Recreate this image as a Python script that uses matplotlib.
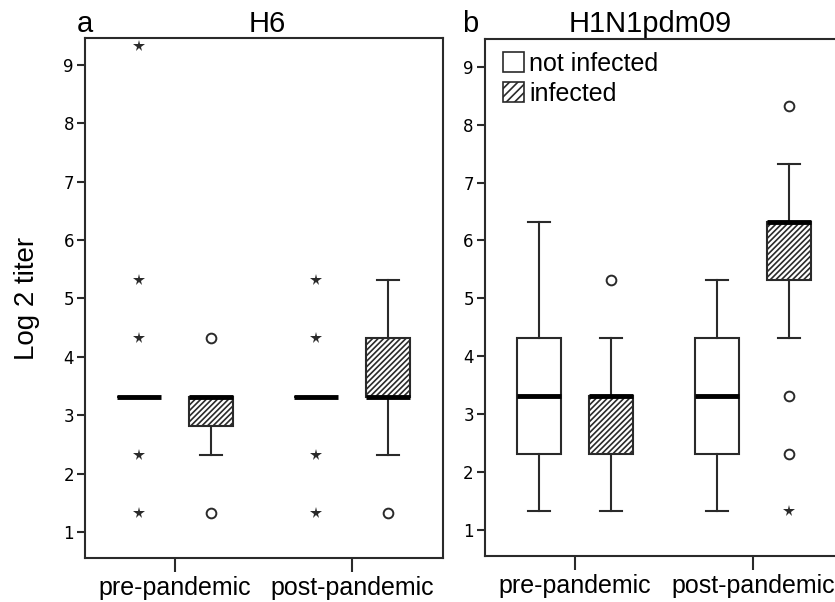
import matplotlib
matplotlib.use("Agg")
from matplotlib import pyplot as plt
from matplotlib.patches import Patch

# box order: pre not infected, pre infected, post not infected, post infected
groups = ["pre-pandemic", "post-pandemic"]
series = ["not infected", "infected"]

h6_med = [3.32, 3.32, 3.32, 3.32]
h6_q1 = [3.32, 2.82, 3.32, 3.32]
h6_q3 = [3.32, 3.32, 3.32, 4.32]
h6_lo = [3.32, 2.32, 3.32, 2.32]
h6_hi = [3.32, 3.32, 3.32, 5.32]
h6_circles = [[], [4.32, 1.32], [], [1.32]]
h6_stars = [[9.32, 5.32, 4.32, 2.32, 1.32], [], [5.32, 4.32, 2.32, 1.32], []]

h1_med = [3.32, 3.32, 3.32, 6.32]
h1_q1 = [2.32, 2.32, 2.32, 5.32]
h1_q3 = [4.32, 3.32, 4.32, 6.32]
h1_lo = [1.32, 1.32, 1.32, 4.32]
h1_hi = [6.32, 4.32, 5.32, 7.32]
h1_circles = [[], [5.32], [], [8.32, 3.32, 2.32]]
h1_stars = [[], [], [], [1.32]]

LINE = "#2a2a2a"
HATCH = "//////"
plt.rcParams["font.family"] = ["Liberation Sans", "DejaVu Sans"]
plt.rcParams["hatch.linewidth"] = 1.2
plt.rcParams["hatch.color"] = "#333333"

OFFSET = 0.203
WIDTH = 0.25


def draw_panel(ax, med, q1, q3, lo, hi, circles, stars):
    stats = []
    positions = []
    for i in range(4):
        stats.append(dict(med=med[i], q1=q1[i], q3=q3[i], whislo=lo[i],
                          whishi=hi[i], fliers=[]))
        g, s = divmod(i, 2)
        positions.append(g + (OFFSET if s else -OFFSET))
    bp = ax.bxp(stats, positions=positions, widths=WIDTH, capwidths=WIDTH / 2,
                showfliers=False, patch_artist=True,
                boxprops=dict(linewidth=1.5, edgecolor=LINE, facecolor="white"),
                whiskerprops=dict(linewidth=1.5, color=LINE),
                capprops=dict(linewidth=1.5, color=LINE),
                medianprops=dict(linewidth=3.5, color="black", solid_capstyle="butt"))
    for i, box in enumerate(bp["boxes"]):
        if i % 2 == 1:
            box.set_hatch(HATCH)
    for i in range(4):
        x = positions[i]
        if circles[i]:
            ax.plot([x] * len(circles[i]), circles[i], "o", ms=7, mfc="white",
                    mec=LINE, mew=1.4, zorder=5)
        if stars[i]:
            ax.plot([x] * len(stars[i]), stars[i], "*", ms=8.5, color=LINE,
                    mew=0, zorder=5)
    ax.set_xticks([0, 1], groups, fontsize=18)
    ax.set_yticks(range(1, 10))
    for lbl in ax.get_yticklabels():
        lbl.set_fontfamily("DejaVu Sans")
        lbl.set_fontsize(12)
    ax.tick_params(axis="y", length=6, width=1.5, color=LINE, pad=2)
    ax.tick_params(axis="x", length=10, width=1.5, color=LINE, pad=3)
    for sp in ax.spines.values():
        sp.set_linewidth(1.5)
        sp.set_color(LINE)


fig = plt.figure(figsize=(8.35, 6.02), dpi=100)

ax1 = fig.add_axes([0.1018, 0.0731, 0.4287, 0.8638])
draw_panel(ax1, h6_med, h6_q1, h6_q3, h6_lo, h6_hi, h6_circles, h6_stars)
ax1.set_xlim(-0.508, 1.514)
ax1.set_ylim(0.555, 9.46)
ax1.set_ylabel("Log 2 titer", fontsize=20, labelpad=17)

ax2 = fig.add_axes([0.5808, 0.0764, 0.449, 0.8588])
draw_panel(ax2, h1_med, h1_q1, h1_q3, h1_lo, h1_hi, h1_circles, h1_stars)
ax2.set_xlim(-0.506, 1.6)
ax2.set_ylim(0.55, 9.48)
ax2.legend(handles=[Patch(facecolor="white", edgecolor=LINE, linewidth=1.2),
                    Patch(facecolor="white", edgecolor=LINE, linewidth=1.2, hatch="////")],
           labels=series, loc="upper left", frameon=False, fontsize=18,
           handlelength=0.85, handleheight=0.85, handletextpad=0.2,
           labelspacing=0.25, borderaxespad=0.1, bbox_to_anchor=(0.015, 1.0))

fig.text(77 / 835, 1 - 32 / 602, "a", fontsize=21)
fig.text(267 / 835, 1 - 32 / 602, "H6", fontsize=21, ha="center")
fig.text(462 / 835, 1 - 32 / 602, "b", fontsize=21)
fig.text(650 / 835, 1 - 32 / 602, "H1N1pdm09", fontsize=21, ha="center")

fig.savefig("out.png", dpi=100)
